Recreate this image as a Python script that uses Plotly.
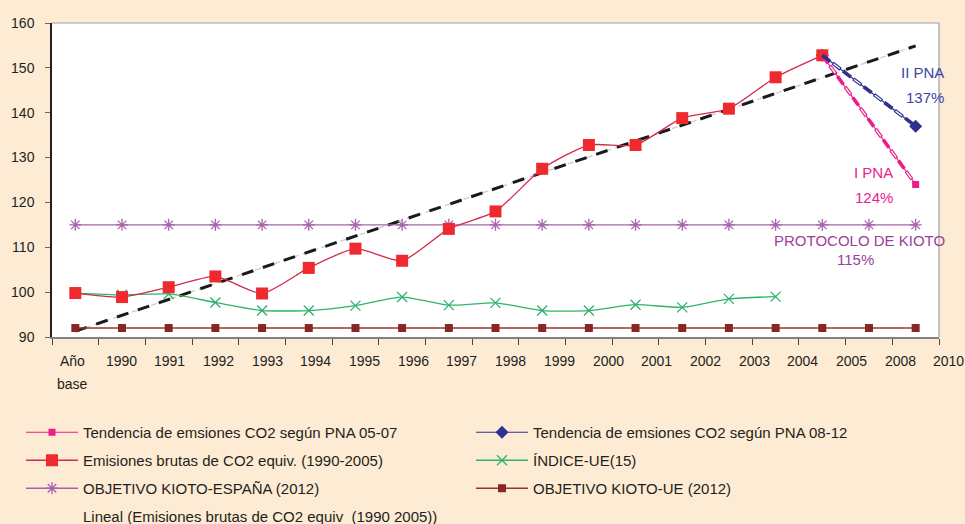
import plotly.graph_objects as go

# Categories of the horizontal axis (base year, 1990-2005 and target years)
categories = ["Año base", "1990", "1991", "1992", "1993", "1994", "1995", "1996",
              "1997", "1998", "1999", "2000", "2001", "2002", "2003", "2004",
              "2005", "2008", "2010"]
tick_labels = ["Año", "1990", "1991", "1992", "1993", "1994", "1995", "1996",
               "1997", "1998", "1999", "2000", "2001", "2002", "2003", "2004",
               "2005", "2008", "2010"]

# Gross CO2-equivalent emissions index (base year = 100), Año base .. 2005
emisiones = [99.8, 98.9, 101.1, 103.5, 99.7, 105.4, 109.7, 107.0, 114.1, 118.0,
             127.5, 132.8, 132.8, 138.8, 140.9, 147.9, 152.8]
# EU-15 index, Año base .. 2004
indice_ue = [99.8, 99.4, 99.6, 97.7, 95.9, 95.9, 97.0, 98.9, 97.1, 97.6,
             95.9, 95.9, 97.2, 96.6, 98.5, 99.0]
# Kyoto targets (2012)
kioto_espana = [115, 115, 115, 115, 115, 115, 115, 115, 115, 115,
                115, 115, 115, 115, 115, 115, 115, 115, 115]
kioto_ue = [92, 92, 92, 92, 92, 92, 92, 92, 92, 92,
            92, 92, 92, 92, 92, 92, 92, 92, 92]
# National allocation plan trends (2005 -> 2010)
pna_cats = ["2005", "2010"]
pna_05_07 = [152.8, 124]
pna_08_12 = [152.8, 137]
# Linear trend of gross emissions (end points)
lineal_cats = ["Año base", "2010"]
lineal = [91.3, 154.9]

PEACH = "#FDEBD4"
TXT = "#231F20"
FONT = "Liberation Sans, Arial, sans-serif"
PINK = "#ec1c8c"
NAVY = "#2e3192"

fig = go.Figure()

# Linear trend: thin light line under a heavy black dashed line
fig.add_trace(go.Scatter(x=lineal_cats, y=lineal, mode="lines",
                         line=dict(color="#c8c8c8", width=1.2, dash="6px,4px"),
                         showlegend=False, hoverinfo="skip"))
fig.add_trace(go.Scatter(x=lineal_cats, y=lineal, mode="lines",
                         line=dict(color="#1a1a1a", width=3, dash="12px,10px"),
                         showlegend=False, hoverinfo="skip"))

# Kyoto targets
fig.add_trace(go.Scatter(x=categories, y=kioto_ue, mode="lines+markers",
                         name="OBJETIVO KIOTO-UE (2012)",
                         line=dict(color="#9a3535", width=1.4),
                         marker=dict(symbol="square", size=8, color="#8a2525"),
                         legend="legend2", legendgroup="kue", legendrank=3))
fig.add_trace(go.Scatter(x=categories, y=kioto_espana, mode="lines+markers",
                         name="OBJETIVO KIOTO-ESPAÑA (2012)",
                         line=dict(color="#a862ad", width=1.4),
                         marker=dict(symbol="asterisk-open", size=10,
                                     line=dict(color="#7e2d86", width=1.3)),
                         legend="legend", legendgroup="kes", legendrank=3))

# EU-15 index
fig.add_trace(go.Scatter(x=categories[:len(indice_ue)], y=indice_ue,
                         mode="lines+markers", name="ÍNDICE-UE(15)",
                         line=dict(color="#2fb36c", width=1.3, shape="spline",
                                   smoothing=0.6),
                         marker=dict(symbol="x-thin-open", size=10,
                                     line=dict(color="#1fa35a", width=1.3)),
                         legend="legend2", legendgroup="iue", legendrank=2))

# PNA trends: thin base line with markers (legend entries)
fig.add_trace(go.Scatter(x=pna_cats, y=pna_05_07, mode="lines+markers",
                         name="Tendencia de emsiones CO2 según PNA 05-07",
                         line=dict(color=PINK, width=1.2),
                         marker=dict(symbol="square", size=7, color=PINK),
                         legend="legend", legendgroup="p1", legendrank=1))
fig.add_trace(go.Scatter(x=pna_cats, y=pna_08_12, mode="lines+markers",
                         name="Tendencia de emsiones CO2 según PNA 08-12",
                         line=dict(color=NAVY, width=1.2),
                         marker=dict(symbol="diamond", size=10, color=NAVY),
                         legend="legend2", legendgroup="p2", legendrank=1))

# Gross emissions
fig.add_trace(go.Scatter(x=categories[:len(emisiones)], y=emisiones,
                         mode="lines+markers",
                         name="Emisiones brutas de CO2 equiv. (1990-2005)",
                         line=dict(color="#d02a4c", width=1.3, shape="spline",
                                   smoothing=0.6),
                         marker=dict(symbol="square", size=12, color="#ee2a2e"),
                         legend="legend", legendgroup="emi", legendrank=2))

# PNA trends: heavy dashed overlay, every second dash drawn hollow
for vals, col in ((pna_05_07, PINK), (pna_08_12, NAVY)):
    fig.add_trace(go.Scatter(x=pna_cats, y=vals, mode="lines",
                             line=dict(color=col, width=3.6, dash="10px,3px,10px,3px"),
                             showlegend=False, hoverinfo="skip"))
    fig.add_trace(go.Scatter(x=pna_cats, y=vals, mode="lines",
                             line=dict(color="white", width=1.3, dash="0px,14px,8px,4px"),
                             showlegend=False, hoverinfo="skip"))

# Legend-only entry for the trend line
fig.add_trace(go.Scatter(x=[None], y=[None], mode="lines",
                         name="Lineal (Emisiones brutas de CO2 equiv  (1990 2005))",
                         line=dict(color="rgba(0,0,0,0)", width=0),
                         legend="legend3"))

# Category labels of the horizontal axis
n_cat = len(categories)
label_step = 1.0428
label_offset = -0.06
annotations = []
for i, lab in enumerate(tick_labels):
    xp = (label_offset + i * label_step + 0.5) / n_cat
    annotations.append(dict(x=xp, y=0, xref="paper", yref="paper",
                            text=lab, showarrow=False, yanchor="middle", xanchor="center",
                            yshift=-24, font=dict(size=14, color=TXT, family=FONT)))
annotations.append(dict(x=(label_offset + 0.5) / n_cat, y=0, xref="paper", yref="paper",
                        text="base", showarrow=False, yanchor="middle", xanchor="center",
                        yshift=-47, font=dict(size=14, color=TXT, family=FONT)))

# Labels beside the targets
def note(x, y, text, color):
    annotations.append(dict(x=x, y=y, xref="x", yref="y", text=text, showarrow=False,
                            xanchor="center", yanchor="middle",
                            font=dict(size=15, color=color, family=FONT)))

note(18.14, 149.0, "II PNA", "#3b45a0")
note(18.20, 143.4, "137%", "#3b45a0")
note(17.09, 126.7, "I PNA", "#e8238e")
note(17.11, 121.0, "124%", "#e8238e")
note(16.80, 111.5, "PROTOCOLO DE KIOTO", "#9c3f98")
note(16.72, 107.2, "115%", "#9c3f98")

legend_common = dict(orientation="v", traceorder="grouped", tracegroupgap=5.5,
                     itemwidth=52, bgcolor="rgba(0,0,0,0)", borderwidth=0,
                     font=dict(size=15, color=TXT, family=FONT),
                     xref="container", yref="container", xanchor="left", yanchor="top")

fig.update_layout(
    width=965, height=524,
    margin=dict(l=52, r=26, t=23, b=187, autoexpand=False),
    paper_bgcolor=PEACH, plot_bgcolor="white",
    font=dict(family=FONT, color=TXT, size=14),
    xaxis=dict(type="category", categoryorder="array", categoryarray=categories,
               range=[-0.5, 18.5], showgrid=False, zeroline=False,
               showticklabels=False, tickson="boundaries", ticks="outside",
               ticklen=6, tickwidth=1, tickcolor="#444",
               showline=True, linecolor="#808285", linewidth=2),
    yaxis=dict(range=[90, 160], dtick=10, showgrid=False, zeroline=False,
               ticks="outside", ticklen=5, tickwidth=1, tickcolor="#666",
               ticklabelstandoff=8,
               showline=True, linecolor=TXT, linewidth=1.5,
               tickfont=dict(size=14, color=TXT, family=FONT)),
    legend=dict(x=21 / 965, y=1 - 416 / 524, **legend_common),
    legend2=dict(x=471 / 965, y=1 - 416 / 524, **legend_common),
    legend3=dict(x=21 / 965, y=1 - 500 / 524, **legend_common),
    annotations=annotations,
    shapes=[
        dict(type="line", xref="paper", yref="paper", x0=0, x1=1, y0=1, y1=1,
             line=dict(color="#9d9fa2", width=1.2)),
        dict(type="line", xref="paper", yref="paper", x0=1, x1=1, y0=0, y1=1,
             line=dict(color="#9d9fa2", width=1.2)),
    ],
)

fig.write_html("out.html")
